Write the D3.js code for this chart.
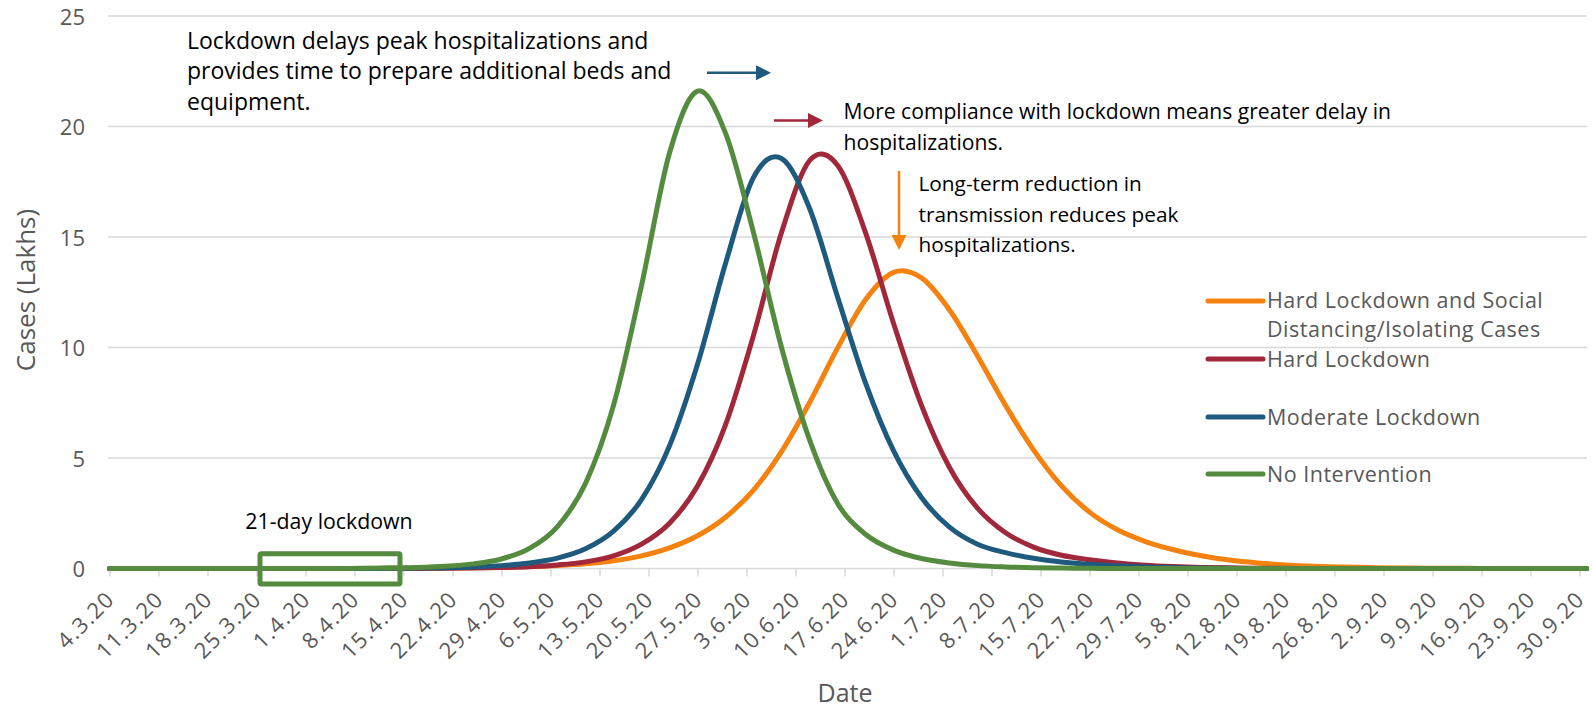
<!DOCTYPE html>
<html>
<head>
<meta charset="utf-8">
<script src="https://cdn.jsdelivr.net/npm/d3@7"></script>
<style>
  body { margin: 0; background: #fff; }
  text { font-family: "Open Sans", sans-serif; }
</style>
</head>
<body>
<div id="chart"></div>
<script>
//Sample dates (every 4 days) the curves were read at
var dates = ["2020-03-04", "2020-03-08", "2020-03-12", "2020-03-16", "2020-03-20", "2020-03-24",
  "2020-03-28", "2020-04-01", "2020-04-05", "2020-04-09", "2020-04-13", "2020-04-17", "2020-04-21",
  "2020-04-25", "2020-04-29", "2020-05-03", "2020-05-07", "2020-05-11", "2020-05-15", "2020-05-19",
  "2020-05-23", "2020-05-27", "2020-05-31", "2020-06-04", "2020-06-08", "2020-06-12", "2020-06-16",
  "2020-06-20", "2020-06-24", "2020-06-28", "2020-07-02", "2020-07-06", "2020-07-10", "2020-07-14",
  "2020-07-18", "2020-07-22", "2020-07-26", "2020-07-30", "2020-08-03", "2020-08-07", "2020-08-11",
  "2020-08-15", "2020-08-19", "2020-08-23", "2020-08-27", "2020-08-31", "2020-09-04", "2020-09-08",
  "2020-09-12", "2020-09-16", "2020-09-20", "2020-09-24", "2020-09-28", "2020-10-01"];

//Cases (Lakhs) for each scenario
var noIntervention = [0, 0, 0, 0, 0, 0, 0, 0, 0, 0.01, 0.02, 0.045, 0.1, 0.21, 0.43, 0.91, 1.9, 3.85,
  7.38, 12.8, 18.8, 21.6, 19.7, 15.2, 10.0, 5.83, 2.95, 1.55, 0.83, 0.45, 0.25, 0.13, 0.07, 0.035,
  0.02, 0.01, 0, 0, 0, 0, 0, 0, 0, 0, 0, 0, 0, 0, 0, 0, 0, 0, 0, 0];
var moderateLockdown = [0, 0, 0, 0, 0, 0, 0, 0, 0, 0, 0.01, 0.02, 0.035, 0.067, 0.13, 0.25, 0.47, 0.89,
  1.69, 3.12, 5.55, 9.24, 13.8, 17.7, 18.55, 16.3, 12.3, 8.4, 5.33, 3.21, 1.87, 1.1, 0.72, 0.46,
  0.29, 0.19, 0.12, 0.07, 0.04, 0.02, 0.01, 0, 0, 0, 0, 0, 0, 0, 0, 0, 0, 0, 0, 0];
var hardLockdown = [0, 0, 0, 0, 0, 0, 0, 0, 0, 0, 0, 0.005, 0.011, 0.022, 0.042, 0.08, 0.16, 0.3,
  0.57, 1.1, 2.05, 3.73, 6.5, 10.55, 15.2, 18.45, 18.25, 15.2, 11.1, 7.38, 4.57, 2.73, 1.62, 0.97,
  0.6, 0.4, 0.25, 0.15, 0.09, 0.05, 0.03, 0.015, 0.008, 0, 0, 0, 0, 0, 0, 0, 0, 0, 0, 0];
var hardLockdownSocial = [0, 0, 0, 0, 0, 0, 0, 0, 0, 0, 0.007, 0.012, 0.02, 0.032, 0.052, 0.085, 0.14,
  0.22, 0.35, 0.57, 0.93, 1.48, 2.32, 3.55, 5.29, 7.5, 9.97, 12.16, 13.4, 13.15, 11.7, 9.62, 7.38,
  5.37, 3.74, 2.55, 1.75, 1.22, 0.85, 0.58, 0.38, 0.25, 0.16, 0.1, 0.065, 0.04, 0.025, 0.015, 0.01,
  0.005, 0, 0, 0, 0];

var yTicks = [0, 5, 10, 15, 20, 25];
var lockdownWindow = ["2020-03-25T12:00", "2020-04-14T12:00"];

var svg = d3.select("#chart")
   .append("svg")
   .attr("width", 1594)
   .attr("height", 709);

var parse = d3.utcParse("%Y-%m-%d");
var parseTime = d3.utcParse("%Y-%m-%dT%H:%M");
var days = dates.map(parse);

var x = d3.scaleUtc()
   .domain([parse("2020-03-04"), parse("2020-10-01")])
   .range([109.5, 1586.5]);
var y = d3.scaleLinear()
   .domain([0, 25])
   .range([568.5, 16]);

//Horizontal gridlines (0 line doubles as the axis)
svg.selectAll(".grid")
   .data(yTicks)
   .enter().append("line")
   .attr("x1", 108)
   .attr("x2", 1587)
   .attr("y1", function(d) { return y(d); })
   .attr("y2", function(d) { return y(d); })
   .style("stroke", "#d9d9d9")
   .style("stroke-width", 1.5);

//Y tick labels
svg.selectAll(".ylab")
   .data(yTicks)
   .enter().append("text")
   .text(function(d) { return d; })
   .attr("x", 85)
   .attr("y", function(d) { return y(d) + 1; })
   .attr("dy", "0.36em")
   .attr("text-anchor", "end")
   .style("font-size", "22px")
   .style("fill", "#595959");

//X axis, one tick per week
var weekTicks = d3.utcWednesday.range(parse("2020-03-04"), parse("2020-10-01"));
var xAxis = svg.append("g")
   .attr("transform", "translate(0," + y(0) + ")")
   .call(d3.axisBottom(x)
     .tickValues(weekTicks)
     .tickSize(8)
     .tickFormat(d3.utcFormat("%-d.%-m.%y")));
xAxis.select(".domain").remove();
xAxis.selectAll(".tick line")
   .style("stroke", "#d9d9d9")
   .style("stroke-width", 1.5);
xAxis.selectAll(".tick text")
   .attr("x", 0)
   .attr("y", 0)
   .attr("dy", 0)
   .attr("transform", "translate(6,32) rotate(-45)")
   .style("text-anchor", "end")
   .style("font-family", "Open Sans")
   .style("font-size", "22px")
   .style("letter-spacing", "1.4px")
   .style("fill", "#595959");

//Axis titles
svg.append("text")
   .text("Cases (Lakhs)")
   .attr("transform", "translate(35,290) rotate(-90)")
   .attr("text-anchor", "middle")
   .style("font-size", "26px")
   .style("fill", "#595959");
svg.append("text")
   .text("Date")
   .attr("x", 845)
   .attr("y", 702)
   .attr("text-anchor", "middle")
   .style("font-size", "25px")
   .style("fill", "#595959");

//Scenario curves, first series drawn first so green ends on top
var series = [
  {name: ["Hard Lockdown and Social", "Distancing/Isolating Cases"], values: hardLockdownSocial, color: "#f5820e"},
  {name: ["Hard Lockdown"], values: hardLockdown, color: "#a0283a"},
  {name: ["Moderate Lockdown"], values: moderateLockdown, color: "#1e5a7e"},
  {name: ["No Intervention"], values: noIntervention, color: "#548b3e"}
];

var line = d3.line()
   .x(function(d, i) { return x(days[i]); })
   .y(function(d) { return y(d); })
   .curve(d3.curveCatmullRom.alpha(0));

svg.selectAll(".curve")
   .data(series)
   .enter().append("path")
   .attr("d", function(s) { return line(s.values); })
   .style("fill", "none")
   .style("stroke", function(s) { return s.color; })
   .style("stroke-width", 5)
   .style("stroke-linecap", "round")
   .style("stroke-linejoin", "round");

//21-day lockdown box
svg.append("rect")
   .attr("x", x(parseTime(lockdownWindow[0])))
   .attr("y", y(0.67))
   .attr("width", x(parseTime(lockdownWindow[1])) - x(parseTime(lockdownWindow[0])))
   .attr("height", y(-0.7) - y(0.67))
   .attr("rx", 1.5)
   .style("fill", "none")
   .style("stroke", "#548b3e")
   .style("stroke-width", 5);
svg.append("text")
   .text("21-day lockdown")
   .attr("x", 329)
   .attr("y", 529)
   .attr("text-anchor", "middle")
   .style("font-size", "21.3px")
   .style("fill", "#000");

//Legend (two-line label for the first entry)
var legendY = [300, 359, 417, 474];
var legend = svg.selectAll(".legend")
   .data(series)
   .enter().append("g")
   .attr("transform", function(s, i) { return "translate(1208," + legendY[i] + ")"; });
legend.append("line")
   .attr("x1", 0)
   .attr("x2", 55)
   .attr("y1", function(s, i) { return i == 0 ? 1 : 0; })
   .attr("y2", function(s, i) { return i == 0 ? 1 : 0; })
   .style("stroke", function(s) { return s.color; })
   .style("stroke-width", 5)
   .style("stroke-linecap", "round");
legend.append("text")
   .attr("y", 0)
   .style("font-size", "21.5px")
   .style("letter-spacing", "0.5px")
   .style("fill", "#595959")
   .each(function(s) {
     var t = d3.select(this);
     s.name.forEach(function(label, j) {
       t.append("tspan")
          .text(label)
          .attr("x", 59)
          .attr("dy", j == 0 ? "0.36em" : "29px");
     });
   });

//Annotations with arrows
var notes = [
  {lines: ["Lockdown delays peak hospitalizations and", "provides time to prepare additional beds and", "equipment."], x: 187, y: 48.5, size: 23},
  {lines: ["More compliance with lockdown means greater delay in", "hospitalizations."], x: 843.5, y: 119, size: 21.1},
  {lines: ["Long-term reduction in", "transmission reduces peak", "hospitalizations."], x: 918.5, y: 191, size: 20.8}
];
notes.forEach(function(n) {
  n.lines.forEach(function(l, j) {
    svg.append("text")
       .text(l)
       .attr("x", n.x)
       .attr("y", n.y + j * 30.5)
       .style("font-size", n.size + "px")
       .style("fill", "#000");
  });
});

function arrow(x1, y1, x2, y2, color) {
  var ang = Math.atan2(y2 - y1, x2 - x1);
  var len = 15, half = 7.5;
  var bx = x2 - len * Math.cos(ang), by = y2 - len * Math.sin(ang);
  svg.append("line")
     .attr("x1", x1).attr("y1", y1)
     .attr("x2", bx).attr("y2", by)
     .style("stroke", color)
     .style("stroke-width", 2.5);
  svg.append("path")
     .attr("d", "M" + x2 + "," + y2 +
       "L" + (bx - half * Math.sin(ang)) + "," + (by + half * Math.cos(ang)) +
       "L" + (bx + half * Math.sin(ang)) + "," + (by - half * Math.cos(ang)) + "Z")
     .style("fill", color);
}
arrow(707, 72.7, 771, 72.7, "#1e5a7e");
arrow(774, 120.5, 823, 120.5, "#a0283a");
arrow(899, 171, 899, 250, "#f5820e");
</script>
</body>
</html>
